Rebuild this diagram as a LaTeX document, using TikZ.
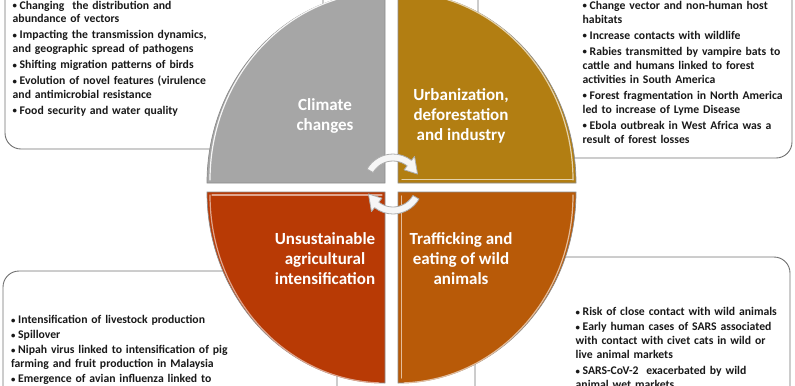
\documentclass[tikz,border=0pt]{standalone}
\usepackage{fontspec}
\setmainfont{Carlito}
\usetikzlibrary{calc}
\definecolor{qgrey}{HTML}{A6A6A6}
\definecolor{qgold}{HTML}{B27E12}
\definecolor{qred}{HTML}{B83A05}
\definecolor{qorange}{HTML}{B85A08}
\definecolor{boxline}{HTML}{707070}
\definecolor{qline}{HTML}{8C8C8C}
\newcommand\bitem[1]{\par\hangindent=7bp\hangafter=1\noindent\makebox[7bp][l]{\raisebox{0.3bp}{\scalebox{0.75}{\textbullet}}}#1}
\begin{document}
\begin{tikzpicture}[x=1bp,y=-1bp,
  box/.style={draw=boxline, line width=0.9bp, rounded corners=16bp, fill=white},
  quad/.style={draw=qline, line width=0.7bp},
  hl/.style={line width=1.2bp, line cap=round},
  lbl/.style={text=white, font=\fontsize{17bp}{20bp}\selectfont\bfseries, align=center, inner sep=0},
  txt/.style={anchor=north west, inner sep=0, text width=300bp, align=left, text=black!90},
  cyc/.style={fill=gray!7, draw=gray!65, line width=0.8bp, line join=round}]
\useasboundingbox (0,0) rectangle (795,385);
\clip (0,0) rectangle (795,385);
% boxes
\draw[box] (5,-30) rectangle (323,149);
\draw[box] (478,-30) rectangle (792,158);
\draw[box] (3,271) rectangle (337,420);
\draw[box] (475,257) rectangle (790,420);
% quadrants
\filldraw[quad, fill=qgrey] (385,183) -- (207,183) arc[start angle=180, end angle=270, x radius=178, y radius=191] -- cycle;
\filldraw[quad, fill=qgold] (398,183) -- (576,183) arc[start angle=0, end angle=-90, x radius=178, y radius=191] -- cycle;
\filldraw[quad, fill=qred] (385,192) -- (207,192) arc[start angle=180, end angle=90, x radius=178, y radius=191] -- cycle;
\filldraw[quad, fill=qorange] (398,192) -- (576,192) arc[start angle=0, end angle=90, x radius=178, y radius=191] -- cycle;
% highlights
\draw[hl, white!90!qgrey] (210,180) arc[start angle=180, end angle=262, x radius=175, y radius=188];
\draw[hl, qgold!35!white] (573,180) arc[start angle=0, end angle=-85, x radius=175, y radius=188];
\draw[hl, qgold!35!white] (402,179.5) -- (573,179.5);
\draw[hl, qred!45!white] (210,195) arc[start angle=180, end angle=92, x radius=175, y radius=188];
\draw[hl, qred!45!white] (212,195) -- (382,195);
\draw[hl, qorange!40!white] (573,195) arc[start angle=0, end angle=88, x radius=175, y radius=188];
\draw[hl, qorange!40!white] (401.5,196) -- (401.5,378);
% labels
\node[lbl] (climate) at (325,116) {Climate\\changes};
\node[lbl] (urban) at (461,116) {Urbanization,\\deforestation\\and industry};
\node[lbl] (agri) at (325,259) {Unsustainable\\agricultural\\intensification};
\node[lbl] (traffic) at (461,259) {Trafficking and\\eating of wild\\animals};
% cycle arrows
\coordinate (C) at (393,184);
\filldraw[cyc] ($(C)+(-150:30)$) arc[start angle=-150, end angle=-52, radius=30]
  -- ($(C)+(-52:35)$) -- ($(C)+(-22:26.5)$) -- ($(C)+(-52:18)$) -- ($(C)+(-52:23)$)
  arc[start angle=-52, end angle=-150, radius=23] -- cycle;
\filldraw[cyc] ($(C)+(30:30)$) arc[start angle=30, end angle=128, radius=30]
  -- ($(C)+(128:35)$) -- ($(C)+(158:26.5)$) -- ($(C)+(128:18)$) -- ($(C)+(128:23)$)
  arc[start angle=128, end angle=30, radius=23] -- cycle;
% texts
\node[txt, font=\fontsize{11.7bp}{13.6bp}\selectfont\bfseries\setlength{\parskip}{2.4bp}] (tltext) at (12.5,-7) {%
\bitem{Changing\ \ the distribution and\\abundance of vectors}
\bitem{Impacting the transmission dynamics,\\and geographic spread of pathogens}
\bitem{Shifting migration patterns of birds}
\bitem{Evolution of novel features (virulence\\and antimicrobial resistance}
\bitem{Food security and water quality}};
\node[txt, font=\fontsize{11.7bp}{14bp}\selectfont\bfseries\setlength{\parskip}{2bp}] (trtext) at (582.5,-7) {%
\bitem{Change vector and non-human host\\habitats}
\bitem{Increase contacts with wildlife}
\bitem{Rabies transmitted by vampire bats to\\cattle and humans linked to forest\\activities in South America}
\bitem{Forest fragmentation in North America\\led to increase of Lyme Disease}
\bitem{Ebola outbreak in West Africa was a\\result of forest losses}};
\node[txt, font=\fontsize{11.7bp}{14bp}\selectfont\bfseries\setlength{\parskip}{0.9bp}] (bltext) at (11,308.5) {%
\bitem{Intensification of livestock production}
\bitem{Spillover}
\bitem{Nipah virus linked to intensification of pig\\farming and fruit production in Malaysia}
\bitem{Emergence of avian influenza linked to}};
\node[txt, font=\fontsize{11.7bp}{14bp}\selectfont\bfseries\setlength{\parskip}{1.6bp}] (brtext) at (575.5,299.5) {%
\bitem{Risk of close contact with wild animals}
\bitem{Early human cases of SARS associated\\with contact with civet cats in wild or\\live animal markets}
\bitem{SARS-CoV-2\ \ exacerbated by wild\\animal wet markets}};
\end{tikzpicture}
\end{document}
